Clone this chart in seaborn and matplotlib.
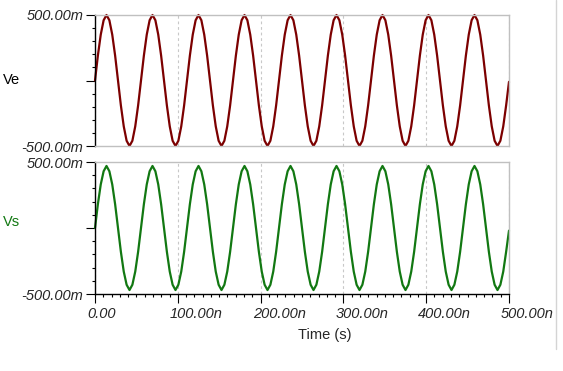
import matplotlib
matplotlib.use('Agg')
import matplotlib.pyplot as plt
import matplotlib.transforms as mtransforms
from matplotlib.lines import Line2D
from matplotlib.ticker import MultipleLocator
import seaborn as sns

# time samples (ns)
time_ns = [
    0.00, 3.47, 6.94, 10.42, 13.89, 17.36, 20.83, 24.31, 27.78, 31.25, 34.72, 38.19, 41.67, 45.14, 48.61, 52.08,
    55.56, 59.03, 62.50, 65.97, 69.44, 72.92, 76.39, 79.86, 83.33, 86.81, 90.28, 93.75, 97.22, 100.69, 104.17, 107.64,
    111.11, 114.58, 118.06, 121.53, 125.00, 128.47, 131.94, 135.42, 138.89, 142.36, 145.83, 149.31, 152.78, 156.25, 159.72, 163.19,
    166.67, 170.14, 173.61, 177.08, 180.56, 184.03, 187.50, 190.97, 194.44, 197.92, 201.39, 204.86, 208.33, 211.81, 215.28, 218.75,
    222.22, 225.69, 229.17, 232.64, 236.11, 239.58, 243.06, 246.53, 250.00, 253.47, 256.94, 260.42, 263.89, 267.36, 270.83, 274.31,
    277.78, 281.25, 284.72, 288.19, 291.67, 295.14, 298.61, 302.08, 305.56, 309.03, 312.50, 315.97, 319.44, 322.92, 326.39, 329.86,
    333.33, 336.81, 340.28, 343.75, 347.22, 350.69, 354.17, 357.64, 361.11, 364.58, 368.06, 371.53, 375.00, 378.47, 381.94, 385.42,
    388.89, 392.36, 395.83, 399.31, 402.78, 406.25, 409.72, 413.19, 416.67, 420.14, 423.61, 427.08, 430.56, 434.03, 437.50, 440.97,
    444.44, 447.92, 451.39, 454.86, 458.33, 461.81, 465.28, 468.75, 472.22, 475.69, 479.17, 482.64, 486.11, 489.58, 493.06, 496.53,
    500.00,
]

# Ve (V)
ve = [
    0.00, 0.19, 0.35, 0.46, 0.50, 0.46, 0.35, 0.19, 0.00, -0.19, -0.35, -0.46, -0.50, -0.46, -0.35, -0.19,
    0.00, 0.19, 0.35, 0.46, 0.50, 0.46, 0.35, 0.19, 0.00, -0.19, -0.35, -0.46, -0.50, -0.46, -0.35, -0.19,
    0.00, 0.19, 0.35, 0.46, 0.50, 0.46, 0.35, 0.19, 0.00, -0.19, -0.35, -0.46, -0.50, -0.46, -0.35, -0.19,
    0.00, 0.19, 0.35, 0.46, 0.50, 0.46, 0.35, 0.19, 0.00, -0.19, -0.35, -0.46, -0.50, -0.46, -0.35, -0.19,
    0.00, 0.19, 0.35, 0.46, 0.50, 0.46, 0.35, 0.19, 0.00, -0.19, -0.35, -0.46, -0.50, -0.46, -0.35, -0.19,
    0.00, 0.19, 0.35, 0.46, 0.50, 0.46, 0.35, 0.19, 0.00, -0.19, -0.35, -0.46, -0.50, -0.46, -0.35, -0.19,
    0.00, 0.19, 0.35, 0.46, 0.50, 0.46, 0.35, 0.19, 0.00, -0.19, -0.35, -0.46, -0.50, -0.46, -0.35, -0.19,
    0.00, 0.19, 0.35, 0.46, 0.50, 0.46, 0.35, 0.19, 0.00, -0.19, -0.35, -0.46, -0.50, -0.46, -0.35, -0.19,
    0.00, 0.19, 0.35, 0.46, 0.50, 0.46, 0.35, 0.19, 0.00, -0.19, -0.35, -0.46, -0.50, -0.46, -0.35, -0.19,
    -0.01,
]

# Vs (V)
vs = [
    0.00, 0.18, 0.33, 0.43, 0.47, 0.43, 0.33, 0.18, 0.00, -0.18, -0.33, -0.43, -0.47, -0.43, -0.33, -0.18,
    0.00, 0.18, 0.33, 0.43, 0.47, 0.43, 0.33, 0.18, 0.00, -0.18, -0.33, -0.43, -0.47, -0.43, -0.33, -0.18,
    0.00, 0.18, 0.33, 0.43, 0.47, 0.43, 0.33, 0.18, 0.00, -0.18, -0.33, -0.43, -0.47, -0.43, -0.33, -0.18,
    0.00, 0.18, 0.33, 0.43, 0.47, 0.43, 0.33, 0.18, 0.00, -0.18, -0.33, -0.43, -0.47, -0.43, -0.33, -0.18,
    0.00, 0.18, 0.33, 0.43, 0.47, 0.43, 0.33, 0.18, 0.00, -0.18, -0.33, -0.43, -0.47, -0.43, -0.33, -0.18,
    0.00, 0.18, 0.33, 0.43, 0.47, 0.43, 0.33, 0.18, 0.00, -0.18, -0.33, -0.43, -0.47, -0.43, -0.33, -0.18,
    0.00, 0.18, 0.33, 0.43, 0.47, 0.43, 0.33, 0.18, 0.00, -0.18, -0.33, -0.43, -0.47, -0.43, -0.33, -0.18,
    0.00, 0.18, 0.33, 0.43, 0.47, 0.43, 0.33, 0.18, 0.00, -0.18, -0.33, -0.43, -0.47, -0.43, -0.33, -0.18,
    0.00, 0.18, 0.33, 0.43, 0.47, 0.43, 0.33, 0.18, 0.00, -0.18, -0.33, -0.43, -0.47, -0.43, -0.33, -0.18,
    -0.02,
]

x_ticks = [0, 100, 200, 300, 400, 500]
x_tick_labels = ['0.00', '100.00n', '200.00n', '300.00n', '400.00n', '500.00n']
y_ticks = [-0.5, 0.0, 0.5]
y_tick_labels = ['-500.00m', '', '500.00m']

sns.set_style('white')
plt.rcParams['font.family'] = ['Liberation Sans', 'DejaVu Sans']

W, H = 563, 371
fig = plt.figure(figsize=(W / 100, H / 100), dpi=100)
frame_gray = '#c0c0c0'


def px_axes(left, top, right, bottom):
    return fig.add_axes([left / W, 1 - bottom / H, (right - left) / W, (bottom - top) / H])


ax_top = px_axes(95, 15, 509, 146)
ax_bot = px_axes(95, 162, 509, 294)

sns.lineplot(x=time_ns, y=ve, ax=ax_top, color='#7c0000', lw=1.6, estimator=None)
sns.lineplot(x=time_ns, y=vs, ax=ax_bot, color='#127812', lw=1.6, estimator=None)

for ax in (ax_top, ax_bot):
    for ln in ax.lines:
        ln.set_clip_on(False)
    ax.set_xlim(0, 500)
    ax.set_ylim(-0.5, 0.5)
    ax.set_xticks(x_ticks)
    ax.xaxis.set_minor_locator(MultipleLocator(10))
    ax.set_yticks(y_ticks)
    ax.set_yticklabels(y_tick_labels, fontsize=10.5, style='italic')
    ax.yaxis.set_minor_locator(MultipleLocator(0.1))
    ax.grid(axis='x', which='major', ls=(0, (2.5, 2.5)), color='#c8c8c8', lw=0.8)
    ax.grid(axis='y', visible=False)
    ax.set_xlabel('')
    ax.set_ylabel('')
    for side in ('top', 'right', 'bottom'):
        ax.spines[side].set_color(frame_gray)
        ax.spines[side].set_linewidth(1)
    ax.spines['left'].set_color('black')
    ax.spines['left'].set_linewidth(1)
    ax.tick_params(axis='y', which='major', direction='out', length=6.5, width=0.8,
                   color='black', pad=2, left=True)
    ax.tick_params(axis='y', which='minor', direction='out', length=2, width=0.8,
                   color='black', left=True)

ax_top.tick_params(axis='x', which='both', bottom=False, labelbottom=False)

ax_bot.spines['bottom'].set_color('black')
ax_bot.set_xticklabels(x_tick_labels, fontsize=10.5, style='italic')
ax_bot.tick_params(axis='x', which='major', direction='out', length=6.5, width=0.8,
                   color='black', pad=3, bottom=True)
ax_bot.tick_params(axis='x', which='minor', direction='out', length=2, width=0.8,
                   color='black', bottom=True)
shift = mtransforms.ScaledTranslation(-8 / 100, 0, fig.dpi_scale_trans)
for lab in ax_bot.get_xticklabels():
    lab.set_horizontalalignment('left')
    lab.set_transform(lab.get_transform() + shift)

fig.text(11 / W, 1 - 80 / H, 'Ve', ha='center', va='center', fontsize=10.5, color='black')
fig.text(11 / W, 1 - 222 / H, 'Vs', ha='center', va='center', fontsize=10.5, color='#127812')
fig.text(325 / W, 1 - 335 / H, 'Time (s)', ha='center', va='center', fontsize=10.5)

fig.add_artist(Line2D([555.5 / W, 555.5 / W], [1, 1 - 349 / H], transform=fig.transFigure,
                      color='#d4d4d4', lw=1))

fig.savefig('out.png', dpi=100)
